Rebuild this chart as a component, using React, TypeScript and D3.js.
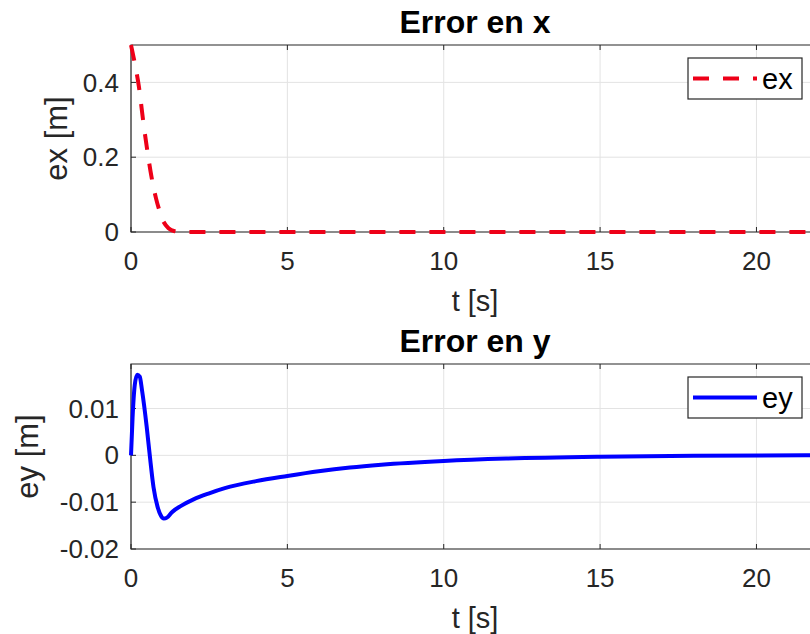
import * as d3 from 'd3'

// Error en x (dashed red)
const exT = [0, 0.1, 0.25, 0.4, 0.5, 0.65, 0.8, 0.9, 1.0, 1.2, 1.4, 1.6, 5, 10, 15, 20, 22]
const exV = [0.5, 0.46, 0.39, 0.29, 0.23, 0.15, 0.09, 0.06, 0.035, 0.01, 0.002, 0, 0, 0, 0, 0, 0]

// Error en y (solid blue)
const eyT = [0, 0.05, 0.12, 0.2, 0.28, 0.35, 0.5, 0.6, 0.72, 0.85, 0.95, 1.05, 1.15, 1.3, 1.6, 2, 2.5, 3, 4, 5, 6, 7, 8, 10, 12, 15, 18, 22]
const eyV = [0, 0.008, 0.015, 0.0172, 0.0168, 0.014, 0.0062, 0, -0.0068, -0.011, -0.0128, -0.0135, -0.0133, -0.0122, -0.0108, -0.0094, -0.0081, -0.007, -0.0055, -0.0044, -0.0034, -0.0026, -0.002, -0.0012, -0.0007, -0.0003, -0.0001, 0]

const xTicks = [0, 5, 10, 15, 20]
const exTicks = [0, 0.2, 0.4]
const eyTicks = [-0.02, -0.01, 0, 0.01]

const FONT = '"Liberation Sans", Arial, Helvetica, sans-serif'
const TXT = '#262626'

type PanelProps = {
  top: number
  bottom: number
  yDomain: [number, number]
  yTicks: number[]
  yFmt: (v: number) => string
  ts: number[]
  vs: number[]
  color: string
  dash?: string
  title: string
  ylabel: string
  ylabelX: number
  legend: string
}

function Panel(p: PanelProps) {
  const left = 131
  const right = 819
  const x = d3.scaleLinear().domain([0, 22]).range([left, right])
  const y = d3.scaleLinear().domain(p.yDomain).range([p.bottom, p.top])
  const pts = p.ts.map((t, i) => [t, p.vs[i]] as [number, number])
  const line = d3.line<[number, number]>().x(d => x(d[0])).y(d => y(d[1])).curve(d3.curveMonotoneX)
  const tk = 5
  const lgX = 688, lgY = p.top + 13, lgW = 114, lgH = 41
  return (
    <g>
      {/* grid */}
      {xTicks.map(t => (
        <line key={'gx' + t} x1={x(t)} x2={x(t)} y1={p.top} y2={p.bottom} stroke="#e3e3e3" strokeWidth={1} />
      ))}
      {p.yTicks.map(t => (
        <line key={'gy' + t} x1={left} x2={right} y1={y(t)} y2={y(t)} stroke="#e3e3e3" strokeWidth={1} />
      ))}
      {/* ticks */}
      {xTicks.map(t => (
        <g key={'tx' + t}>
          <line x1={x(t)} x2={x(t)} y1={p.bottom} y2={p.bottom - tk} stroke={TXT} />
          <line x1={x(t)} x2={x(t)} y1={p.top} y2={p.top + tk} stroke={TXT} />
          <text x={x(t)} y={p.bottom + 38} textAnchor="middle" fontSize={26} fill={TXT}>{t}</text>
        </g>
      ))}
      {p.yTicks.map(t => (
        <g key={'ty' + t}>
          <line x1={left} x2={left + tk} y1={y(t)} y2={y(t)} stroke={TXT} />
          <text x={119} y={y(t)} dy="0.35em" textAnchor="end" fontSize={26} fill={TXT}>{p.yFmt(t)}</text>
        </g>
      ))}
      {/* axes box */}
      <path d={`M${right},${p.top}H${left}V${p.bottom}H${right}`} fill="none" stroke={TXT} strokeWidth={1.2} />
      {/* data */}
      <path d={line(pts) ?? ''} fill="none" stroke={p.color} strokeWidth={4} strokeDasharray={p.dash} />
      {/* labels */}
      <text x={(left + right) / 2} y={p.top - 12} textAnchor="middle" fontSize={32} fontWeight="bold" fill="#000">{p.title}</text>
      <text x={(left + right) / 2} y={p.bottom + 79} textAnchor="middle" fontSize={29} fill={TXT}>t [s]</text>
      <text transform={`translate(${p.ylabelX},${(p.top + p.bottom) / 2}) rotate(-90)`} textAnchor="middle" fontSize={31} fill={TXT}>{p.ylabel}</text>
      {/* legend */}
      <rect x={lgX} y={lgY} width={lgW} height={lgH} fill="#fff" stroke={TXT} strokeWidth={1.2} />
      <line x1={lgX + 5} x2={lgX + 69} y1={lgY + lgH / 2} y2={lgY + lgH / 2} stroke={p.color} strokeWidth={4} strokeDasharray={p.dash} />
      <text x={lgX + 74} y={lgY + lgH / 2} dy="0.35em" fontSize={29} fill="#000">{p.legend}</text>
    </g>
  )
}

export default function App() {
  return (
    <svg width={810} height={634} style={{ position: 'absolute', left: 0, top: 0, background: '#fff' }} fontFamily={FONT}>
      <rect width={810} height={634} fill="#fff" />
      <Panel top={45} bottom={232} yDomain={[0, 0.5]} yTicks={exTicks} yFmt={v => String(v)}
        ts={exT} vs={exV} color="#ee0018" dash="16,14" title="Error en x" ylabel="ex [m]" ylabelX={67} legend="ex" />
      <Panel top={364} bottom={549} yDomain={[-0.02, 0.0195]} yTicks={eyTicks} yFmt={v => String(v)}
        ts={eyT} vs={eyV} color="#0000ff" title="Error en y" ylabel="ey [m]" ylabelX={38} legend="ey" />
    </svg>
  )
}
